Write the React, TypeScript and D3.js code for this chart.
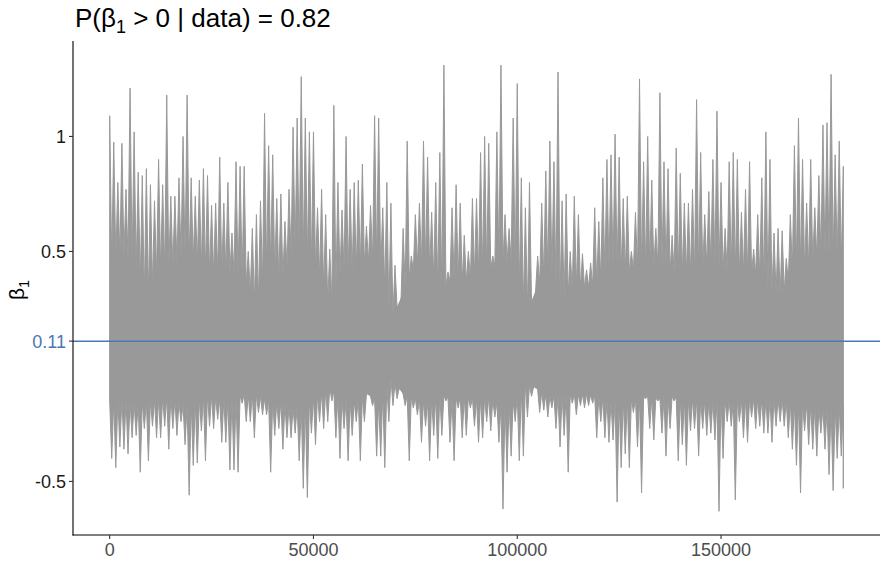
import React from "react";
import * as d3 from "d3";

// Per 1000-iteration bin: highest and lowest draw
const binHigh = [
  1.09, 0.975, 0.80, 0.97, 0.77, 1.21, 1.02, 0.845, 0.83, 0.86,
  0.79, 0.72, 0.90, 0.79, 1.18, 0.74, 0.74, 0.82, 1.00, 1.18,
  0.82, 0.74, 0.81, 0.86, 0.83, 0.70, 0.71, 0.91, 0.71, 0.80,
  0.58, 0.89, 0.87, 0.87, 0.50, 0.60, 0.66, 0.72, 1.10, 0.96,
  0.92, 0.73, 0.75, 0.63, 0.77, 1.04, 1.08, 1.26, 1.08, 1.02,
  1.02, 0.69, 0.77, 0.66, 0.51, 1.135, 0.80, 0.68, 1.00, 0.77,
  0.80, 0.81, 0.88, 0.61, 0.70, 1.09, 1.08, 0.69, 0.80, 0.71,
  0.44, 0.22, 0.60, 0.98, 0.48, 0.66, 0.71, 0.98, 0.91, 0.67,
  0.80, 0.93, 1.31, 0.41, 0.69, 0.79, 0.71, 0.57, 0.50, 0.73,
  0.73, 0.93, 1.00, 0.97, 0.48, 1.02, 1.31, 0.66, 0.60, 1.08,
  1.23, 0.82, 0.69, 0.80, 0.25, 0.48, 0.71, 0.85, 0.98, 0.89,
  1.28, 0.72, 0.75, 0.50, 0.74, 0.66, 0.49, 0.42, 0.45, 0.69,
  0.63, 0.82, 0.90, 0.92, 1.01, 0.91, 0.73, 0.74, 0.50, 0.67,
  1.25, 0.89, 1.00, 0.81, 0.60, 1.19, 0.89, 0.86, 0.57, 0.95,
  0.84, 0.71, 0.71, 0.77, 1.16, 0.93, 0.66, 0.76, 0.90, 1.11,
  0.80, 0.60, 0.89, 0.93, 0.90, 0.67, 0.77, 0.89, 0.51, 0.66,
  0.82, 1.02, 0.90, 0.58, 0.60, 0.59, 0.47, 0.66, 0.96, 1.08,
  0.90, 0.71, 0.90, 0.69, 0.83, 1.05, 1.06, 1.27, 0.92, 0.98,
  0.87,
];
const binLow = [
  -0.40, -0.44, -0.35, -0.36, -0.38, -0.31, -0.30, -0.46, -0.27, -0.41,
  -0.26, -0.31, -0.31, -0.26, -0.36, -0.27, -0.30, -0.24, -0.34, -0.56,
  -0.43, -0.42, -0.28, -0.41, -0.26, -0.27, -0.23, -0.33, -0.33, -0.45,
  -0.45, -0.46, -0.16, -0.24, -0.24, -0.31, -0.20, -0.21, -0.21, -0.46,
  -0.30, -0.27, -0.36, -0.31, -0.31, -0.29, -0.41, -0.53, -0.57, -0.29,
  -0.34, -0.24, -0.27, -0.24, -0.15, -0.31, -0.40, -0.27, -0.41, -0.30,
  -0.24, -0.41, -0.24, -0.10, -0.17, -0.39, -0.39, -0.44, -0.24, -0.17,
  -0.14, -0.10, -0.17, -0.41, -0.18, -0.21, -0.33, -0.26, -0.41, -0.30,
  -0.40, -0.30, -0.15, -0.33, -0.41, -0.18, -0.31, -0.30, -0.18, -0.26,
  -0.33, -0.31, -0.24, -0.28, -0.22, -0.33, -0.62, -0.46, -0.39, -0.24,
  -0.41, -0.39, -0.22, -0.13, -0.07, -0.20, -0.19, -0.22, -0.18, -0.27,
  -0.35, -0.30, -0.46, -0.16, -0.21, -0.17, -0.18, -0.17, -0.16, -0.31,
  -0.24, -0.31, -0.33, -0.32, -0.59, -0.44, -0.38, -0.44, -0.20, -0.35,
  -0.55, -0.14, -0.27, -0.32, -0.15, -0.29, -0.39, -0.27, -0.15, -0.41,
  -0.34, -0.43, -0.28, -0.27, -0.39, -0.27, -0.30, -0.29, -0.32, -0.63,
  -0.40, -0.24, -0.26, -0.58, -0.24, -0.31, -0.33, -0.22, -0.27, -0.26,
  -0.29, -0.29, -0.33, -0.26, -0.24, -0.26, -0.31, -0.36, -0.43, -0.55,
  -0.28, -0.34, -0.36, -0.39, -0.29, -0.36, -0.47, -0.54, -0.40, -0.39,
  -0.53,
];
// Per 3000-iteration block: extent of the dense (solid) part of the trace
const coreHigh = [
  0.45, 0.48, 0.45, 0.28, 0.42, 0.42, 0.48, 0.45, 0.40, 0.40,
  0.41, 0.38, 0.25, 0.46, 0.36, 0.50, 0.48, 0.42, 0.25, 0.42,
  0.40, 0.45, 0.46, 0.20, 0.32, 0.44, 0.44, 0.32, 0.38, 0.36,
  0.40, 0.42, 0.45, 0.46, 0.22, 0.35, 0.42, 0.28, 0.34, 0.34,
  0.36, 0.44, 0.40, 0.42, 0.42, 0.44, 0.40, 0.40, 0.40, 0.44,
  0.42, 0.40, 0.40, 0.40, 0.32, 0.30, 0.44, 0.42, 0.48, 0.48,
  0.45,
];
const coreLow = [
  -0.15, -0.14, -0.16, -0.15, -0.14, -0.13, -0.17, -0.15, -0.12, -0.14,
  -0.14, -0.12, -0.12, -0.15, -0.15, -0.18, -0.16, -0.12, -0.09, -0.14,
  -0.15, -0.12, -0.15, -0.05, -0.12, -0.14, -0.15, -0.12, -0.14, -0.13,
  -0.14, -0.13, -0.17, -0.15, -0.07, -0.10, -0.13, -0.12, -0.12, -0.12,
  -0.13, -0.15, -0.14, -0.14, -0.13, -0.14, -0.13, -0.14, -0.14, -0.15,
  -0.14, -0.15, -0.14, -0.14, -0.14, -0.14, -0.16, -0.16, -0.18, -0.18,
  -0.17,
];
const posteriorMean = 0.11;
const nIter = 180000;
const xTicks = [0, 50000, 100000, 150000];
const yTicks = [-0.5, 0.5, 1];
const binSize = 1000;
const blockSize = 3000;

const W = 886;
const H = 565;
const FONT = "'Liberation Sans', Arial, Helvetica, sans-serif";
const BLUE = "#4a78b4";
const GREY = "#999999";

// level of the dense band at a given iteration (same linear geometry as the band drawn)
function bandAt(arr: number[], it: number) {
  const p = Math.max(0, Math.min(it / blockSize, arr.length - 1));
  const i = Math.min(Math.floor(p), arr.length - 2);
  const t = p - i;
  return arr[i] * (1 - t) + arr[i + 1] * t;
}

export default function App() {
  const x = d3.scaleLinear().domain([-9000, 189000]).range([73, 880]);
  const y = d3.scaleLinear().domain([-0.733, 1.415]).range([535, 41]);
  const lastIt = nIter;

  const upper: [number, number][] = [[0, posteriorMean]];
  binHigh.forEach((h, k) => {
    upper.push([Math.min(k * binSize, lastIt), h]);
    const v = Math.min(k * binSize + binSize / 2, lastIt);
    upper.push([v, bandAt(coreHigh, v)]);
  });
  upper.push([lastIt, posteriorMean]);

  const lower: [number, number][] = [[0, posteriorMean], [0, bandAt(coreLow, 0)]];
  binLow.forEach((l, k) => {
    lower.push([Math.min(k * binSize + binSize / 2, lastIt), l]);
    const v = Math.min((k + 1) * binSize, lastIt);
    lower.push([v, bandAt(coreLow, v)]);
  });
  lower.push([lastIt, posteriorMean]);

  const line = d3
    .line<[number, number]>()
    .x((d) => x(d[0]))
    .y((d) => y(d[1]));

  const area = d3
    .area<number>()
    .x((_, i) => x(Math.min(i * blockSize, lastIt)))
    .y0((_, i) => y(coreLow[i]))
    .y1((d) => y(d));

  const left = 73;
  const bottom = 535;
  const tickFs = 18;

  return (
    <svg width={W} height={H} style={{ position: "absolute", left: 0, top: 0, background: "#fff" }}>
      <rect x={0} y={0} width={W} height={H} fill="#fff" />
      <path d={area(coreHigh) || ""} fill={GREY} stroke="none" />
      <path d={(line(upper) || "") + "Z"} fill={GREY} stroke={GREY} strokeWidth={1} strokeLinejoin="miter" strokeMiterlimit={40} />
      <path d={(line(lower) || "") + "Z"} fill={GREY} stroke={GREY} strokeWidth={1} strokeLinejoin="miter" strokeMiterlimit={40} />
      <line x1={left} x2={880} y1={y(posteriorMean)} y2={y(posteriorMean)} stroke={BLUE} strokeWidth={1.5} />

      {/* axes */}
      <line x1={left} x2={left} y1={41} y2={bottom + 0.5} stroke="#000" strokeWidth={1.1} />
      <line x1={left - 0.5} x2={880} y1={bottom} y2={bottom} stroke="#000" strokeWidth={1.1} />

      {yTicks.map((t) => (
        <g key={t}>
          <line x1={left - 4} x2={left} y1={y(t)} y2={y(t)} stroke="#333" strokeWidth={1.1} />
          <text x={left - 7} y={y(t)} dy="0.36em" textAnchor="end" fontFamily={FONT} fontSize={tickFs} fill="#1a1a1a">
            {String(t)}
          </text>
        </g>
      ))}
      <line x1={left - 4} x2={left} y1={y(posteriorMean)} y2={y(posteriorMean)} stroke="#333" strokeWidth={1.1} />
      <text x={left - 7} y={y(posteriorMean)} dy="0.36em" textAnchor="end" fontFamily={FONT} fontSize={tickFs} fill={BLUE}>
        {String(posteriorMean)}
      </text>

      {xTicks.map((t) => (
        <g key={t}>
          <line x1={x(t)} x2={x(t)} y1={bottom} y2={bottom + 4} stroke="#333" strokeWidth={1.1} />
          <text x={x(t)} y={bottom + 21} textAnchor="middle" fontFamily={FONT} fontSize={tickFs} fill="#4d4d4d">
            {String(t)}
          </text>
        </g>
      ))}

      <text transform={`translate(24, ${(41 + 535) / 2 + 2}) rotate(-90)`} textAnchor="middle" fontFamily={FONT} fontSize={21} fill="#000">
        β<tspan fontSize={14} dy="5">1</tspan>
      </text>

      <text x={75} y={27} fontFamily={FONT} fontSize={26} fill="#000">
        P(β<tspan fontSize={18} dy="6">1</tspan>
        <tspan dy="-6"> &gt; 0 | data) = 0.82</tspan>
      </text>
    </svg>
  );
}
